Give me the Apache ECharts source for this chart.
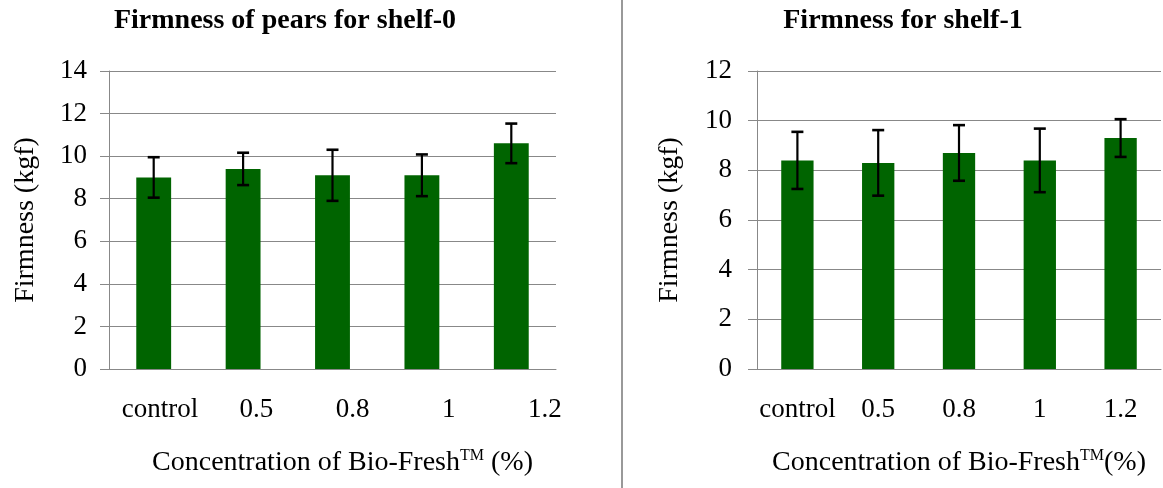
<!DOCTYPE html>
<html>
<head>
<meta charset="utf-8">
<script src="https://cdn.jsdelivr.net/npm/echarts@6/dist/echarts.min.js"></script>
<style>
html,body{margin:0;padding:0;background:#fff;}
#chart{width:1163px;height:488px;}
</style>
</head>
<body>
<div id="chart"></div>
<script>
// ---- data ----
const categories = ['control', '0.5', '0.8', '1', '1.2'];
const shelf0Mean = [9.0, 9.4, 9.1, 9.1, 10.6];
const shelf0Err  = [0.95, 0.76, 1.2, 0.98, 0.93];
const shelf1Mean = [8.4, 8.3, 8.7, 8.4, 9.3];
const shelf1Err  = [1.15, 1.32, 1.12, 1.28, 0.76];
const shelf0Ticks = [0, 2, 4, 6, 8, 10, 12, 14];
const shelf1Ticks = [0, 2, 4, 6, 8, 10, 12];
const title0 = 'Firmness of pears for shelf-0';
const title1 = 'Firmness for shelf-1';
const yTitle = 'Firmness (kgf)';

const FONT = '"Liberation Serif", "Times New Roman", serif';
const GRID_C = '#888888';
const BAR_C = '#006400';
const TICK_FS = 27;
const NAME_FS = 28;

function errData(mean, err) {
  return mean.map((m, i) => [i, m - err[i], m + err[i]]);
}
function errRender(params, api) {
  const x = api.value(0);
  const lo = api.coord([x, api.value(1)]);
  const hi = api.coord([x, api.value(2)]);
  const h = 6;
  const st = { stroke: '#000', lineWidth: 2.2 };
  const cap = { stroke: '#000', lineWidth: 2.6 };
  return {
    type: 'group',
    children: [
      { type: 'line', shape: { x1: lo[0], y1: lo[1], x2: hi[0], y2: hi[1] }, style: st },
      { type: 'line', shape: { x1: hi[0] - h, y1: hi[1], x2: hi[0] + h, y2: hi[1] }, style: cap },
      { type: 'line', shape: { x1: lo[0] - h, y1: lo[1], x2: lo[0] + h, y2: lo[1] }, style: cap }
    ]
  };
}
function yAxisCfg(grid, ticks, margin, gap) {
  return {
    type: 'value', gridIndex: grid,
    min: ticks[0], max: ticks[ticks.length - 1], interval: ticks[1] - ticks[0],
    name: yTitle, nameLocation: 'middle', nameGap: gap,
    nameTextStyle: { fontFamily: FONT, fontSize: NAME_FS, color: '#000' },
    axisLine: { show: true, lineStyle: { color: GRID_C, width: 1 } },
    axisTick: { show: true, length: 9, lineStyle: { color: GRID_C } },
    axisLabel: { fontFamily: FONT, fontSize: TICK_FS, color: '#000', margin: margin },
    splitLine: { show: true, lineStyle: { color: GRID_C, width: 1 } }
  };
}
const xNameRich = {
  n: { fontFamily: FONT, fontSize: NAME_FS, color: '#000' },
  s: { fontFamily: FONT, fontSize: 16, color: '#000', padding: [0, 0, 13, 0] }
};

const chart = echarts.init(document.getElementById('chart'));
chart.setOption({
  animation: false,
  backgroundColor: '#fff',
  title: [
    { text: title0, left: 285, top: 7, padding: 0, textAlign: 'center',
      textStyle: { fontFamily: FONT, fontSize: NAME_FS, fontWeight: 'bold', color: '#000' } },
    { text: title1, left: 903, top: 7, padding: 0, textAlign: 'center',
      textStyle: { fontFamily: FONT, fontSize: NAME_FS, fontWeight: 'bold', color: '#000' } }
  ],
  grid: [
    { left: 109, right: 607, top: 71, bottom: 119 },
    { left: 112, width: 481, top: 71, bottom: 119 },
    { left: 757, right: 2, top: 71, bottom: 119 }
  ],
  xAxis: [
    { type: 'category', gridIndex: 0, data: categories,
      axisLine: { lineStyle: { color: GRID_C } }, axisTick: { show: false },
      axisLabel: { show: false },
      name: '{n|Concentration of Bio-Fresh}{s|TM}{n| (%)}', nameLocation: 'middle', nameGap: 79,
      nameTextStyle: { rich: xNameRich, padding: [0, 0, 0, 20] } },
    { type: 'category', gridIndex: 1, data: categories,
      axisLine: { show: false }, axisTick: { show: false },
      axisLabel: { fontFamily: FONT, fontSize: TICK_FS, color: '#000', margin: 27, interval: 0 } },
    { type: 'category', gridIndex: 2, data: categories,
      axisLine: { lineStyle: { color: GRID_C } }, axisTick: { show: false },
      axisLabel: { fontFamily: FONT, fontSize: TICK_FS, color: '#000', margin: 27, interval: 0 },
      name: '{n|Concentration of Bio-Fresh}{s|TM}{n|(%)}', nameLocation: 'middle', nameGap: 79,
      nameTextStyle: { rich: xNameRich } }
  ],
  yAxis: [
    yAxisCfg(0, shelf0Ticks, 22, 69),
    { type: 'value', gridIndex: 1, show: false, min: 0, max: 14 },
    yAxisCfg(2, shelf1Ticks, 25, 73)
  ],
  series: [
    { type: 'bar', xAxisIndex: 0, yAxisIndex: 0, data: shelf0Mean, barWidth: '39%',
      itemStyle: { color: BAR_C } },
    { type: 'custom', xAxisIndex: 0, yAxisIndex: 0, data: errData(shelf0Mean, shelf0Err),
      renderItem: errRender, z: 5 },
    { type: 'bar', xAxisIndex: 2, yAxisIndex: 2, data: shelf1Mean, barWidth: '40%',
      itemStyle: { color: BAR_C } },
    { type: 'custom', xAxisIndex: 2, yAxisIndex: 2, data: errData(shelf1Mean, shelf1Err),
      renderItem: errRender, z: 5 }
  ],
  graphic: [
    { type: 'line', shape: { x1: 622, y1: 0, x2: 622, y2: 488 },
      style: { stroke: '#999', lineWidth: 2 } }
  ]
});
</script>
</body>
</html>
